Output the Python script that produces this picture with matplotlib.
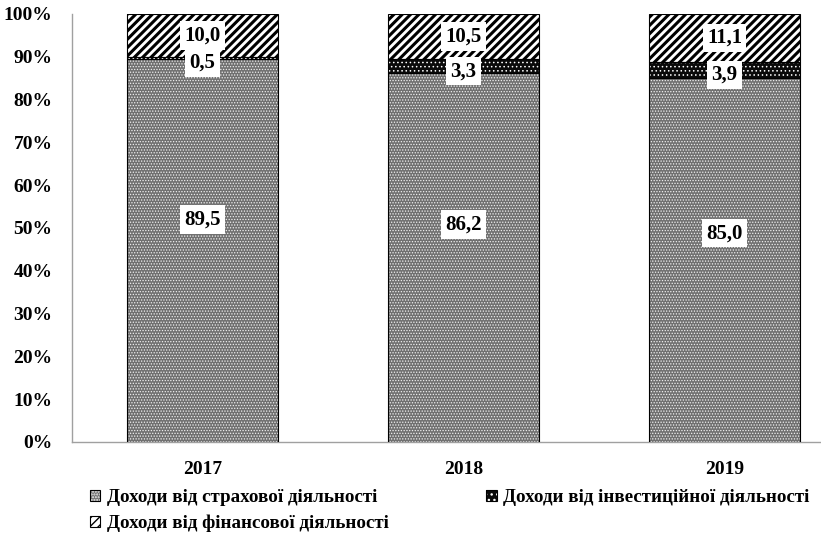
import matplotlib
matplotlib.use("Agg")
import matplotlib.pyplot as plt
import numpy as np
from matplotlib.patches import Patch
from matplotlib.legend_handler import HandlerTuple

years = ["2017", "2018", "2019"]
insurance = [89.5, 86.2, 85.0]
investment = [0.5, 3.3, 3.9]
financial = [10.0, 10.5, 11.1]
labels_insurance = ["89,5", "86,2", "85,0"]
labels_investment = ["0,5", "3,3", "3,9"]
labels_financial = ["10,0", "10,5", "11,1"]
yticks = [0, 10, 20, 30, 40, 50, 60, 70, 80, 90, 100]
series_names = ["Доходи від страхової діяльності",
                "Доходи від інвестиційної діяльності",
                "Доходи від фінансової діяльності"]

plt.rcParams['font.family'] = ['Liberation Serif', 'DejaVu Serif']
plt.rcParams['font.weight'] = 'bold'

W, H = 821, 542
fig = plt.figure(figsize=(W / 100, H / 100), dpi=100)
# axes run past the right edge of the figure
left, right, top, bottom = 72, 855, 14, 442
ax = fig.add_axes([left / W, 1 - bottom / H, (right - left) / W, (bottom - top) / H])

x = np.arange(len(years))
bw = 0.575

INS = dict(face="#707070", hatch="......", hcolor="#f0f0f0", hlw=0.6)
INV = dict(face="#0a0a0a", hatch="....", hcolor="white", hlw=0.6)
FIN = dict(face="white", hatch="////", hcolor="black", hlw=2.2)


def hatched_bars(bottoms, heights, st):
    bars = ax.bar(x, heights, bw, bottom=bottoms, color=st["face"], edgecolor=st["hcolor"],
                  hatch=st["hatch"], linewidth=0, zorder=2)
    for b in bars:
        if hasattr(b, "set_hatch_linewidth"):
            b.set_hatch_linewidth(st["hlw"])
    ax.bar(x, heights, bw, bottom=bottoms, facecolor="none", edgecolor="black",
           linewidth=0.8, zorder=3)
    return bars


def legend_handle(st, hatch=None, hlw=None):
    p = Patch(facecolor=st["face"], edgecolor=st["hcolor"], hatch=hatch or st["hatch"],
              linewidth=0)
    if hasattr(p, "set_hatch_linewidth"):
        p.set_hatch_linewidth(hlw if hlw is not None else st["hlw"])
    outline = Patch(facecolor="none", edgecolor="black", linewidth=0.8)
    return (p, outline)


ins_bottom = np.zeros(3)
inv_bottom = np.array(insurance)
fin_bottom = inv_bottom + np.array(investment)

hatched_bars(ins_bottom, insurance, INS)
hatched_bars(inv_bottom, investment, INV)
hatched_bars(fin_bottom, financial, FIN)

box = dict(boxstyle="square,pad=0.2", facecolor="white", edgecolor="none")
ins_shift = [7.2, 7.7, 6.3]
for i in range(3):
    ax.text(x[i], insurance[i] / 2 + ins_shift[i], labels_insurance[i], ha="center",
            va="center", fontsize=15, fontweight="bold", bbox=box, zorder=5)
    ax.text(x[i], inv_bottom[i] + investment[i] / 2 - 1.2, labels_investment[i], ha="center",
            va="center", fontsize=15, fontweight="bold", bbox=box, zorder=5)
    ax.text(x[i], fin_bottom[i] + financial[i] / 2, labels_financial[i], ha="center",
            va="center", fontsize=15, fontweight="bold", bbox=box, zorder=6)

ax.set_xlim(-0.5, 2.5)
ax.set_ylim(0, 100)
ax.set_yticks(yticks)
ax.set_yticklabels([f"{t}%" for t in yticks], fontsize=14, fontweight="bold")
ax.set_xticks(x)
ax.set_xticklabels(years, fontsize=14, fontweight="bold")
ax.tick_params(axis="both", length=0)
ax.tick_params(axis="y", pad=14)
ax.tick_params(axis="x", pad=14)
for s in ["top", "right"]:
    ax.spines[s].set_visible(False)
for s in ["left", "bottom"]:
    ax.spines[s].set_color("#a0a0a0")
    ax.spines[s].set_linewidth(1.0)

h_ins = legend_handle(INS, "......", 0.6)
h_inv = legend_handle(INV, "...", 0.6)
h_fin = legend_handle(FIN, "////", 2.0)
leg = fig.legend([h_ins, h_fin, h_inv], [series_names[0], series_names[2], series_names[1]],
                 handler_map={tuple: HandlerTuple(ndivide=1, pad=0)},
                 ncol=2, loc="upper left", bbox_to_anchor=(90 / W, 1 - 489 / H),
                 frameon=False, fontsize=13.7, handlelength=0.55, handleheight=0.55,
                 handletextpad=0.35, columnspacing=5.1, labelspacing=0.45,
                 borderpad=0, borderaxespad=0)
for t in leg.get_texts():
    t.set_fontweight("bold")

fig.savefig("out.png", dpi=100)
